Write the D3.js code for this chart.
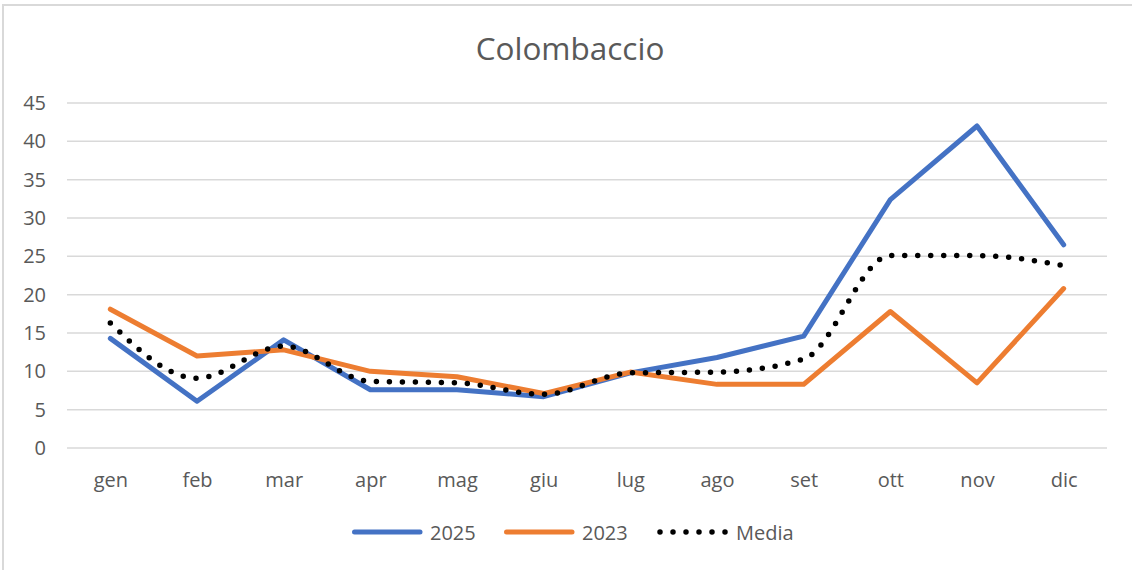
<!DOCTYPE html>
<html>
<head>
<meta charset="utf-8">
<script src="https://cdn.jsdelivr.net/npm/d3@7"></script>
<style>
  body { margin: 0; background: #fff; }
  text { font-family: "Open Sans", "Noto Sans", sans-serif; fill: #595959; }
</style>
</head>
<body>
<div id="chart-area"></div>
<script>
const MONTHS = ["gen", "feb", "mar", "apr", "mag", "giu", "lug", "ago", "set", "ott", "nov", "dic"]
const Y_TICKS = [0, 5, 10, 15, 20, 25, 30, 35, 40, 45]
const SERIES_2025 = [14.3, 6.1, 14.1, 7.6, 7.6, 6.7, 9.8, 11.8, 14.6, 32.4, 42.0, 26.5]
const SERIES_2023 = [18.1, 12.0, 12.8, 10.0, 9.3, 7.1, 9.9, 8.3, 8.3, 17.8, 8.5, 20.8]
const SERIES_MEDIA = [16.3, 9.1, 13.3, 8.7, 8.5, 7.0, 9.8, 9.9, 11.6, 25.1, 25.1, 23.8]

const W = 1132, H = 570
const MARGIN = { LEFT: 67, RIGHT: 25, TOP: 103, BOTTOM: 122 }
const WIDTH = W - MARGIN.LEFT - MARGIN.RIGHT
const HEIGHT = H - MARGIN.TOP - MARGIN.BOTTOM

const svg = d3.select("#chart-area").append("svg")
    .attr("width", W)
    .attr("height", H)

// chart border (only top and left show in the picture)
svg.append("path")
    .attr("d", `M3,${H} L3,5 L${W},5`)
    .attr("fill", "none")
    .attr("stroke", "#d9d9d9")
    .attr("stroke-width", 2)

svg.append("text")
    .attr("x", 570)
    .attr("y", 59.5)
    .attr("text-anchor", "middle")
    .attr("font-size", "31.5px")
    .text("Colombaccio")

const g = svg.append("g")
    .attr("transform", `translate(${MARGIN.LEFT}, ${MARGIN.TOP})`)

// Scales
const x = d3.scalePoint()
    .domain(MONTHS)
    .range([0, WIDTH])
    .padding(0.5)

const y = d3.scaleLinear()
    .domain([0, 45])
    .range([HEIGHT, 0])

// Gridlines
g.append("g")
    .selectAll("line")
    .data(Y_TICKS)
    .enter().append("line")
    .attr("x1", 0)
    .attr("x2", WIDTH)
    .attr("y1", d => y(d))
    .attr("y2", d => y(d))
    .attr("stroke", "#d9d9d9")
    .attr("stroke-width", 1.5)

// Y Axis
const yAxisCall = d3.axisLeft(y).tickValues(Y_TICKS).tickSize(0).tickPadding(21)
const yAxis = g.append("g").call(yAxisCall)
yAxis.select(".domain").remove()
yAxis.selectAll("text")
    .attr("font-size", "20px")
    .attr("fill", "#595959")
    .style("font-family", "Open Sans, sans-serif")

// X Axis
const xAxisCall = d3.axisBottom(x).tickSize(0).tickPadding(25)
const xAxis = g.append("g")
    .attr("transform", `translate(0, ${HEIGHT})`)
    .call(xAxisCall)
xAxis.select(".domain").remove()
xAxis.selectAll("text")
    .attr("font-size", "20px")
    .attr("fill", "#595959")
    .style("font-family", "Open Sans, sans-serif")

// Lines
const straight = d3.line()
    .x((d, i) => x(MONTHS[i]))
    .y(d => y(d))

const smooth = d3.line()
    .x((d, i) => x(MONTHS[i]))
    .y(d => y(d))
    .curve(d3.curveMonotoneX)

const series = [
    { name: "2025", values: SERIES_2025, color: "#4472c4", gen: straight, dash: null, width: 5 },
    { name: "2023", values: SERIES_2023, color: "#ed7d31", gen: straight, dash: null, width: 5 },
    { name: "Media", values: SERIES_MEDIA, color: "#000000", gen: smooth, dash: "0 13", width: 5.5 }
]

g.selectAll(".series")
    .data(series)
    .enter().append("path")
    .attr("class", "series")
    .attr("d", d => d.gen(d.values))
    .attr("fill", "none")
    .attr("stroke", d => d.color)
    .attr("stroke-width", d => d.width)
    .attr("stroke-linecap", "round")
    .attr("stroke-linejoin", "round")
    .attr("stroke-dasharray", d => d.dash)

// Legend
const legendPos = [352, 504, 660]
const legend = svg.append("g")
    .selectAll("g")
    .data(series)
    .enter().append("g")
    .attr("transform", (d, i) => `translate(${legendPos[i]}, 532)`)

legend.append("line")
    .attr("x1", d => d.dash ? 0 : 2.5)
    .attr("x2", d => d.dash ? 66 : 68)
    .attr("y1", 0).attr("y2", 0)
    .attr("stroke", d => d.color)
    .attr("stroke-width", d => d.width)
    .attr("stroke-linecap", "round")
    .attr("stroke-dasharray", d => d.dash)

legend.append("text")
    .attr("x", d => d.dash ? 76 : 78)
    .attr("y", 8)
    .attr("font-size", "20px")
    .text(d => d.name)
</script>
</body>
</html>
